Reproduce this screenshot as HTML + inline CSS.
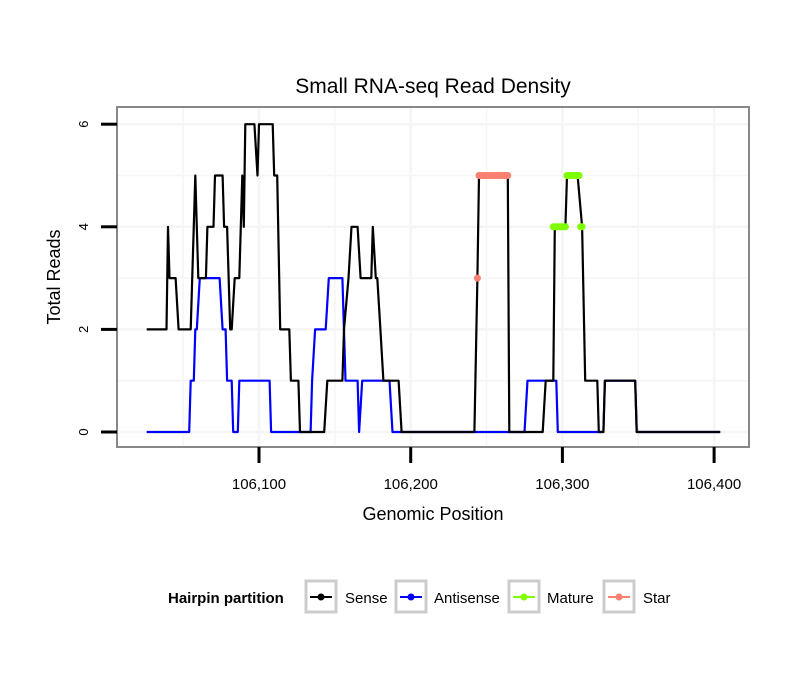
<!DOCTYPE html>
<html><head><meta charset="utf-8"><style>
body{margin:0;background:#fff;font-family:"Liberation Sans",sans-serif;}
svg text{font-family:"Liberation Sans",sans-serif;}
</style></head><body>
<svg width="810" height="690" viewBox="0 0 810 690" xmlns="http://www.w3.org/2000/svg">
<rect width="810" height="690" fill="#fff"/>
<text x="433" y="93" font-size="21" text-anchor="middle">Small RNA-seq Read Density</text>
<g id="grid"></g>
<g id="series"></g>
<rect x="117" y="107" width="632" height="340" fill="none" stroke="#888" stroke-width="2"/>
<g id="axes"></g>
<text x="433" y="520" font-size="18" text-anchor="middle">Genomic Position</text>
<text transform="translate(60,277) rotate(-90)" font-size="18" text-anchor="middle">Total Reads</text>
<g font-size="15">
<text x="168" y="603" font-weight="bold">Hairpin partition</text>
<g><rect x="306" y="581" width="30" height="31" fill="#fff" stroke="#ccc" stroke-width="3"/><line x1="310" x2="332" y1="597" y2="597" stroke="#000" stroke-width="2"/><circle cx="321" cy="597" r="3.5" fill="#000"/><text x="345" y="603">Sense</text></g>
<g><rect x="396" y="581" width="30" height="31" fill="#fff" stroke="#ccc" stroke-width="3"/><line x1="400" x2="422" y1="597" y2="597" stroke="#0000ff" stroke-width="2"/><circle cx="411" cy="597" r="3.5" fill="#0000ff"/><text x="434" y="603">Antisense</text></g>
<g><rect x="509" y="581" width="30" height="31" fill="#fff" stroke="#ccc" stroke-width="3"/><line x1="513" x2="535" y1="597" y2="597" stroke="#7fff00" stroke-width="2"/><circle cx="524" cy="597" r="3.5" fill="#7fff00"/><text x="547" y="603">Mature</text></g>
<g><rect x="604" y="581" width="30" height="31" fill="#fff" stroke="#ccc" stroke-width="3"/><line x1="608" x2="630" y1="597" y2="597" stroke="#fa8072" stroke-width="2"/><circle cx="619" cy="597" r="3.5" fill="#fa8072"/><text x="643" y="603">Star</text></g>
</g>
</svg>
<script>
const senseX=[106026,106039,106040,106041,106045,106047,106055,106058,106060,106065,106066,106070,106071,106076,106077,106079,106081,106082,106084,106087,106089,106090,106091,106097,106099,106100,106109,106110,106112,106114,106120,106121,106126,106127,106143,106145,106155,106156,106159,106161,106165,106167,106174,106175,106177,106178,106180,106182,106192,106194,106242,106244,106245,106264,106265,106287,106289,106294,106295,106302,106303,106310,106313,106315,106323,106324,106327,106328,106348,106349,106404];
const senseY=[2,2,4,3,3,2,2,5,3,3,4,4,5,5,4,4,2,2,3,3,5,4,6,6,5,6,6,5,5,2,2,1,1,0,0,1,1,2,3,4,4,3,3,4,3,3,2,1,1,0,0,3,5,5,0,0,1,1,4,4,5,5,4,1,1,0,0,1,1,0,0];
const antiX=[106026,106054,106055,106057,106058,106059,106061,106074,106076,106078,106079,106082,106083,106086,106087,106107,106108,106134,106135,106137,106144,106146,106155,106157,106165,106166,106168,106186,106188,106275,106277,106296,106297,106327,106328,106348,106349,106404];
const antiY=[0,0,1,1,2,2,3,3,2,2,1,1,0,0,1,1,0,0,1,2,2,3,3,1,1,0,1,1,0,0,1,1,0,0,1,1,0,0];
const starX=[106244,106245,106246,106247,106248,106249,106250,106251,106252,106253,106254,106255,106256,106257,106258,106259,106260,106261,106262,106263,106264];
const starY=[3,5,5,5,5,5,5,5,5,5,5,5,5,5,5,5,5,5,5,5,5];
const matureX=[106294,106295,106296,106297,106298,106299,106300,106301,106302,106303,106304,106305,106306,106307,106308,106309,106310,106311,106312,106313];
const matureY=[4,4,4,4,4,4,4,4,4,5,5,5,5,5,5,5,5,5,4,4];
const xTicks=[106100,106200,106300,106400];
const xTickLabels=["106,100","106,200","106,300","106,400"];
const yTicks=[0,2,4,6];
const NS="http://www.w3.org/2000/svg";
function xs(v){return 259+(v-106100)*1.517;}
function ys(v){return 432-v*51.3;}
function mk(tag,attrs,parent){const e=document.createElementNS(NS,tag);for(const k in attrs)e.setAttribute(k,attrs[k]);parent.appendChild(e);return e;}
const grid=document.getElementById('grid'),ser=document.getElementById('series'),ax=document.getElementById('axes');
for(let v=106050;v<=106400;v+=50){const l=mk('line',{x1:xs(v),x2:xs(v),y1:108,y2:446,stroke:'#f5f5f5','stroke-width':v%100===0?2.5:1.5},grid);

}
for(let v=0;v<=6;v++){const l=mk('line',{x1:118,x2:748,y1:ys(v),y2:ys(v),stroke:'#f5f5f5','stroke-width':v%2===0?2.5:1.5},grid);

}
function line(X,Y,color,name){const d=X.map((x,i)=>(i?'L':'M')+xs(x).toFixed(1)+','+ys(Y[i]).toFixed(1)).join('');
const p=mk('path',{d:d,fill:'none',stroke:color,'stroke-width':2.2,'stroke-linejoin':'round'},ser);

}
line(antiX,antiY,'#0000ff','antisense-line');
line(senseX,senseY,'#000000','sense-line');
function dots(X,Y,color,name){X.forEach((x,i)=>{const c=mk('circle',{cx:xs(x),cy:ys(Y[i]),r:3.5,fill:color},ser);

});}
dots(starX,starY,'#fa8072','star-point');
dots(matureX,matureY,'#7fff00','mature-point');
xTicks.forEach((v,i)=>{const t=mk('line',{x1:xs(v),x2:xs(v),y1:447,y2:463,stroke:'#000','stroke-width':3},ax);


const tx=mk('text',{x:xs(v),y:489,'font-size':15,'text-anchor':'middle'},ax);tx.textContent=xTickLabels[i];

});
yTicks.forEach(v=>{const t=mk('line',{x1:101,x2:117,y1:ys(v),y2:ys(v),stroke:'#000','stroke-width':3},ax);


const tx=mk('text',{transform:'translate(88,'+ys(v)+') rotate(-90)','font-size':13,'text-anchor':'middle'},ax);tx.textContent=String(v);

});
</script>
</body></html>
